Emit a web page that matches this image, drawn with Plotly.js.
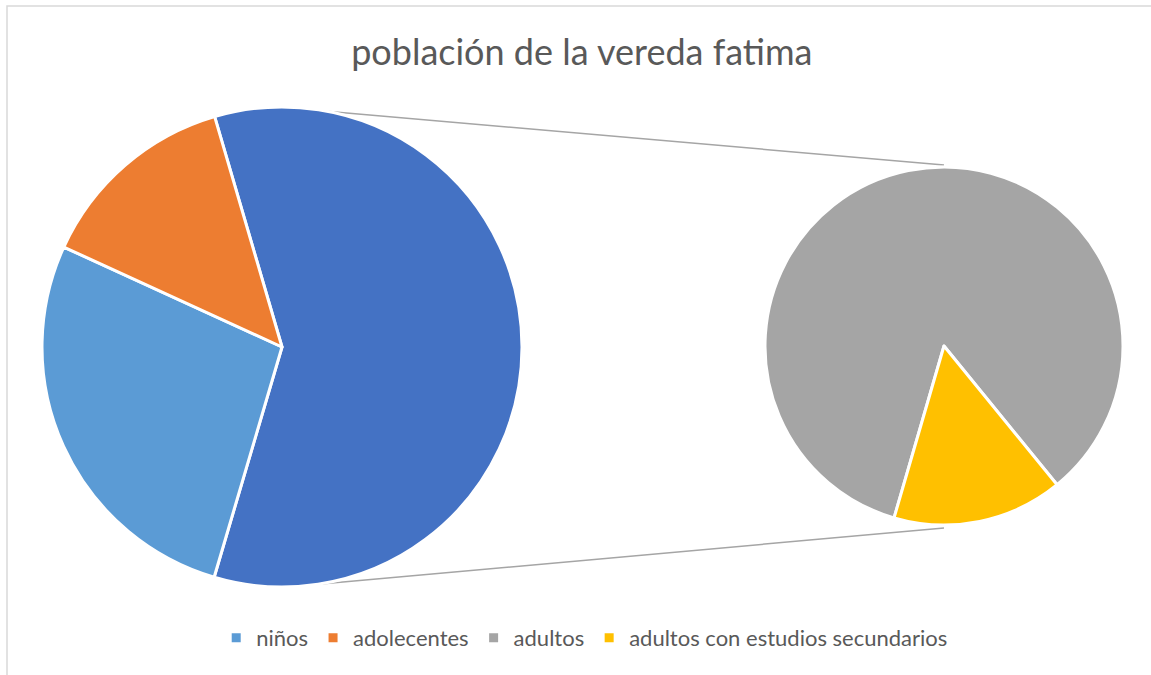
<!DOCTYPE html>
<html><head><meta charset="utf-8">
<script src="https://cdn.plot.ly/plotly-3.0.1.min.js"></script>
<style>html,body{margin:0;padding:0;background:#fff}#chart{width:1151px;height:675px}</style>
</head><body><div id="chart"></div>
<script>
// Data
const categories = ['niños', 'adolecentes', 'adultos', 'adultos con estudios secundarios'];
const values = [30, 15, 55, 10];
const colors = ['#5B9BD5', '#ED7D31', '#A5A5A5', '#FFC000'];
const otherLabel = 'adultos (total)';
const otherColor = '#4472C4';
const titleText = 'población de la vereda fatima';

const W = 1151, H = 675;
// geometry (px)
const L = {cx: 282, cy: 347, r: 240};
const R = {cx: 944, cy: 346, r: 179};
const px = x => x / W, py = y => 1 - y / H;

const otherValue = values[2] + values[3];
const leftRot = -16.3;
const rightRot = -163.8;

const leftPie = {
  type: 'pie', sort: false, direction: 'clockwise', rotation: leftRot,
  labels: [otherLabel, categories[0], categories[1]],
  values: [otherValue, values[0], values[1]],
  marker: {colors: [otherColor, colors[0], colors[1]], line: {color: '#fff', width: 3}},
  textinfo: 'none', hoverinfo: 'label+value', showlegend: false,
  domain: {x: [px(L.cx - L.r), px(L.cx + L.r)], y: [py(L.cy + L.r), py(L.cy - L.r)]}
};
const rightPie = {
  type: 'pie', sort: false, direction: 'clockwise', rotation: rightRot,
  labels: [categories[2], categories[3]],
  values: [values[2], values[3]],
  marker: {colors: [colors[2], colors[3]], line: {color: '#fff', width: 3}},
  textinfo: 'none', hoverinfo: 'label+value', showlegend: false,
  domain: {x: [px(R.cx - R.r), px(R.cx + R.r)], y: [py(R.cy + R.r), py(R.cy - R.r)]}
};
const legendTraces = categories.map((c, i) => ({
  type: 'scatter', mode: 'markers', x: [null], y: [null], name: c,
  marker: {symbol: 'square', size: 9, color: colors[i]}, hoverinfo: 'skip'
}));

function onCircle(c, deg) {
  const a = deg * Math.PI / 180;
  return [c.cx + c.r * Math.sin(a), c.cy - c.r * Math.cos(a)];
}
const lt = onCircle(L, 10.7), lb = onCircle(L, 171.4);
const rt = onCircle(R, 0), rb = onCircle(R, 180);

const shapes = [
  {type: 'line', xref: 'paper', yref: 'paper', x0: px(lt[0]), y0: py(lt[1]), x1: px(rt[0]), y1: py(rt[1] - 2), line: {color: '#A5A5A5', width: 1.5}, layer: 'below'},
  {type: 'line', xref: 'paper', yref: 'paper', x0: px(lb[0]), y0: py(lb[1]), x1: px(rb[0]), y1: py(rb[1] + 3), line: {color: '#A5A5A5', width: 1.5}, layer: 'below'},
  {type: 'rect', xref: 'paper', yref: 'paper', x0: px(7), y0: py(6), x1: 1.05, y1: -0.05, line: {color: '#D9D9D9', width: 1.5}}
];

const layout = {
  width: W, height: H, margin: {l: 0, r: 0, t: 0, b: 0},
  paper_bgcolor: '#fff', plot_bgcolor: '#fff',
  title: {text: titleText, x: 0.5055, xanchor: 'center', y: py(52), yanchor: 'middle',
    font: {family: 'Lato, sans-serif', size: 36, color: '#595959'}},
  xaxis: {visible: false}, yaxis: {visible: false},
  showlegend: true,
  legend: {orientation: 'h', x: 0.508, xanchor: 'center', y: py(638), yanchor: 'middle',
    font: {family: 'Lato, sans-serif', size: 22, color: '#595959'}, itemwidth: 30, bgcolor: 'rgba(0,0,0,0)'},
  shapes: shapes
};
Plotly.newPlot('chart', [leftPie, rightPie, ...legendTraces], layout, {displayModeBar: false, staticPlot: true});
</script></body></html>
